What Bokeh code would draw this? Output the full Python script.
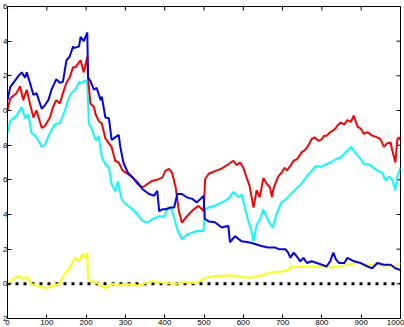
import math
from bokeh.plotting import figure
from bokeh.models import LinearAxis, FixedTicker, Range1d
from bokeh.embed import file_html
from bokeh.resources import INLINE

# ---- data ----
blue_x = [0, 7, 28, 36, 45, 49, 57, 66, 74, 87, 95, 104, 112, 124, 133, 141, 150, 158, 167, 169, 182, 186, 194, 203,
          205, 211, 220, 227, 237, 240, 249, 258, 265, 274, 283, 287, 295, 306, 318, 331, 343, 360, 373, 381, 386, 394,
          402, 415, 424, 432, 444, 457, 470, 482, 491, 499, 502, 512, 528, 545, 562, 566, 579, 596, 613, 630,
          646, 663, 680, 690, 707, 714, 720, 728, 737, 745, 753, 762, 774, 787, 800, 812, 821, 829, 836, 844, 857, 865,
          882, 899, 916, 928, 941, 958, 975, 987, 1000]
blue_y = [1.06, 1.135, 1.20, 1.22, 1.19, 1.22, 1.16, 1.09, 1.10, 1.01, 1.03, 1.06, 1.12, 1.18, 1.16, 1.165, 1.29, 1.31,
          1.37, 1.36, 1.37, 1.425, 1.40, 1.45, 1.19, 1.17, 1.12, 1.13, 1.06, 1.08, 0.96, 0.955, 0.83, 0.845, 0.86, 0.79,
          0.70, 0.643, 0.614, 0.585, 0.547, 0.518, 0.508, 0.537, 0.42, 0.43, 0.43, 0.44, 0.44, 0.518, 0.518, 0.498,
          0.49, 0.47, 0.49, 0.508, 0.375, 0.36, 0.355, 0.325, 0.335, 0.24, 0.275, 0.245, 0.24, 0.23, 0.218, 0.21, 0.21,
          0.20, 0.20, 0.18, 0.15, 0.18, 0.155, 0.13, 0.15, 0.12, 0.13, 0.12, 0.11, 0.10, 0.13, 0.18, 0.14, 0.12, 0.12,
          0.15, 0.13, 0.12, 0.10, 0.09, 0.12, 0.11, 0.11, 0.09, 0.08]

red_x = [0, 7, 23, 32, 40, 49, 57, 66, 74, 87, 95, 108, 116, 124, 133, 141, 150, 158, 167, 173, 186, 194, 203, 205, 211,
         220, 224, 232, 240, 249, 258, 265, 274, 283, 293, 306, 318, 331, 343, 356, 369, 381, 394, 402, 411, 419, 428,
         436, 444, 453, 461, 474, 486, 499, 503, 512, 528, 545, 562, 575, 583, 592, 600, 609, 616, 626,
         634, 642, 651, 659, 668, 673, 676, 680, 689, 697, 705, 711, 720, 728, 737, 743, 749, 756, 762, 768, 774, 781,
         791, 800, 806, 812, 821, 829, 836, 840, 848, 857, 865, 874, 881, 891, 899, 907, 916, 928, 941, 949, 958, 966,
         975, 979, 987, 992, 996, 1000]
red_y = [1.00, 1.07, 1.10, 1.14, 1.06, 1.12, 1.04, 0.96, 1.00, 0.90, 0.91, 0.96, 1.02, 1.06, 1.04, 1.10, 1.16, 1.19,
         1.25, 1.25, 1.29, 1.22, 1.31, 1.19, 1.04, 1.02, 0.98, 0.94, 0.925, 0.84, 0.81, 0.79, 0.71, 0.70, 0.653, 0.634,
         0.614, 0.576, 0.556, 0.576, 0.595, 0.60, 0.614, 0.653, 0.663, 0.64, 0.556, 0.42, 0.353, 0.38, 0.40, 0.43,
         0.45, 0.42, 0.605, 0.635, 0.65, 0.665, 0.69, 0.71, 0.685, 0.70, 0.67, 0.61, 0.565, 0.44, 0.54,
         0.50, 0.61, 0.58, 0.555, 0.50, 0.54, 0.57, 0.62, 0.64, 0.67, 0.655, 0.68, 0.71, 0.72, 0.74, 0.76, 0.77, 0.785,
         0.81, 0.835, 0.845, 0.825, 0.835, 0.855, 0.855, 0.875, 0.885, 0.90, 0.915, 0.93, 0.92, 0.945, 0.935, 0.97,
         0.905, 0.895, 0.865, 0.875, 0.855, 0.845, 0.835, 0.79, 0.81, 0.815, 0.77, 0.70, 0.835, 0.845, 0.83]

cyan_x = [0, 7, 23, 36, 45, 53, 61, 70, 78, 87, 95, 108, 116, 124, 133, 146, 154, 162, 173, 182, 190, 199, 203, 207,
          215, 224, 232, 240, 249, 258, 265, 274, 281, 290, 301, 318, 331, 343, 356, 369, 386, 399, 407, 416, 424, 432,
          444, 457, 470, 482, 499, 502, 512, 528, 545, 562, 575, 588, 596, 604, 613, 621, 626, 634, 642,
          651, 659, 668, 676, 684, 697, 710, 722, 735, 747, 760, 773, 785, 798, 811, 823, 836, 848, 857, 865, 874, 882,
          891, 899, 907, 920, 928, 941, 954, 962, 970, 979, 987, 992, 1000]
cyan_y = [0.87, 0.94, 0.97, 1.02, 0.955, 0.98, 0.87, 0.855, 0.83, 0.79, 0.80, 0.87, 0.905, 0.925, 0.925, 1.00, 1.06,
          1.10, 1.12, 1.165, 1.16, 1.175, 1.15, 0.925, 0.89, 0.83, 0.85, 0.73, 0.69, 0.67, 0.575, 0.535, 0.59, 0.49,
          0.46, 0.43, 0.40, 0.363, 0.353, 0.373, 0.39, 0.39, 0.43, 0.44, 0.38, 0.315, 0.257, 0.285, 0.295, 0.305,
          0.305, 0.43, 0.44, 0.45, 0.47, 0.49, 0.53, 0.50, 0.515, 0.44, 0.36, 0.305, 0.245, 0.34, 0.37, 0.43,
          0.39, 0.345, 0.325, 0.40, 0.47, 0.49, 0.52, 0.55, 0.575, 0.615, 0.65, 0.68, 0.675, 0.69, 0.70, 0.72, 0.73,
          0.75, 0.77, 0.79, 0.765, 0.74, 0.72, 0.69, 0.69, 0.675, 0.655, 0.64, 0.595, 0.62, 0.60, 0.54, 0.62, 0.67]

yellow_x = [0, 15, 28, 40, 49, 61, 83, 99, 116, 133, 141, 150, 158, 167, 173, 182, 190, 199, 203, 205, 215, 232, 249,
            265, 283, 300, 316, 333, 350, 370, 400, 430, 450, 475, 495, 503, 528, 545, 562, 579, 596, 613, 630, 646,
            663, 680, 697, 714, 722, 739, 756, 773, 790, 806, 823, 840, 857, 874, 891, 907, 924, 941, 958, 975, 992,
            1000]
yellow_y = [0.0, 0.03, 0.045, 0.03, 0.04, 0.0, -0.015, -0.025, -0.01, 0.0, 0.045, 0.07, 0.09, 0.13, 0.15, 0.13, 0.17,
            0.15, 0.18, 0.03, 0.015, 0.0, -0.025, 0.0, -0.01, 0.0, -0.005, -0.01, 0.005, 0.015, 0.005, 0.0, 0.01, 0.005,
            0.02, 0.035, 0.045, 0.045, 0.05, 0.045, 0.04, 0.035, 0.04, 0.05, 0.06, 0.07, 0.07, 0.08, 0.10, 0.095, 0.10,
            0.10, 0.10, 0.10, 0.095, 0.10, 0.105, 0.115, 0.12, 0.115, 0.11, 0.11, 0.105, 0.105, 0.105, 0.12]

zero_x = [0, 1000]
zero_y = [0, 0]

x_range = (0, 1000)
y_range = (-0.2, 1.6)
x_ticks = [0, 100, 200, 300, 400, 500, 600, 700, 800, 900, 1000]
y_ticks = [-0.2, 0.0, 0.2, 0.4, 0.6, 0.8, 1.0, 1.2, 1.4, 1.6]
# only the last character of each y label is visible (the rest is cropped off)
y_labels = ["2", "0", "2", "4", "6", "8", "0", "2", "4", "6"]

# ---- figure ----
p = figure(width=404, height=327, output_backend="svg", toolbar_location=None,
           x_range=Range1d(*x_range), y_range=Range1d(*y_range),
           x_axis_location=None, y_axis_location=None,
           min_border_left=0, min_border_right=4, min_border_top=6, min_border_bottom=0)
p.background_fill_color = "white"
p.border_fill_color = "white"
p.outline_line_color = "black"
p.outline_line_width = 1
p.grid.visible = False

font = "Liberation Sans"

xb = LinearAxis(ticker=FixedTicker(ticks=x_ticks))
yl = LinearAxis(ticker=FixedTicker(ticks=y_ticks),
                major_label_overrides={t: s for t, s in zip(y_ticks, y_labels)})
for ax in (xb, yl):
    ax.major_tick_in = 4
    ax.major_tick_out = 0
    ax.minor_tick_line_color = None
    ax.axis_line_color = "black"
    ax.major_tick_line_color = "black"
    ax.major_label_text_font = font
    ax.major_label_text_color = "black"
    ax.major_label_text_font_size = "8px"
xb.major_label_standoff = 1
yl.major_label_standoff = 0
p.add_layout(xb, "below")
p.add_layout(yl, "left")

# inward ticks on the top and right edges (half of each dash is clipped by the frame)
p.scatter(x_ticks, [y_range[1]] * len(x_ticks), marker="dash", angle=math.pi / 2, size=8,
          line_color="black", line_width=1)
p.scatter([x_range[1]] * len(y_ticks), y_ticks, marker="dash", size=8,
          line_color="black", line_width=1)

p.line(zero_x, zero_y, line_color="black", line_width=3, line_dash="3 5")
p.line(yellow_x, yellow_y, line_color="#FFFF00", line_width=2)
p.line(cyan_x, cyan_y, line_color="#00FFFF", line_width=2)
p.line(red_x, red_y, line_color="#FF0000", line_width=2)
p.line(blue_x, blue_y, line_color="#0000FF", line_width=2)

open("out.html", "w").write(file_html(p, INLINE))
